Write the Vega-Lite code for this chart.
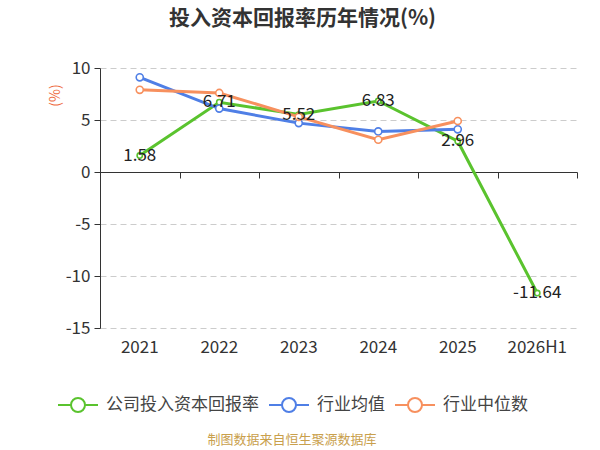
{
  "$schema": "https://vega.github.io/schema/vega-lite/v6.json",
  "autosize": "none",
  "width": 477,
  "height": 260,
  "padding": {"left": 100, "top": 68, "right": 23, "bottom": 122},
  "background": "white",
  "title": {
    "text": "投入资本回报率历年情况(%)",
    "fontSize": 21,
    "fontWeight": "bold",
    "color": "#333333",
    "font": "Noto Sans CJK SC",
    "anchor": "middle",
    "dx": -36,
    "offset": 30
  },
  "config": {
    "font": "Noto Sans CJK SC",
    "locale": {
      "number": {"decimal": ".", "thousands": ",", "grouping": [3], "currency": ["", ""], "minus": "-"}
    },
    "view": {"stroke": null},
    "legend": {
      "orient": "none",
      "legendX": -43,
      "legendY": 316,
      "direction": "horizontal",
      "symbolType": "M-1,0L-0.35,0M0.35,0L1,0M0.35,0A0.35,0.35,0,1,1,-0.35,0A0.35,0.35,0,1,1,0.35,0",
      "symbolSize": 1600,
      "symbolStrokeWidth": 2,
      "symbolFillColor": "white",
      "labelFontSize": 17,
      "labelColor": "#444444",
      "labelOffset": 7,
      "columnPadding": 6,
      "titleOrient": "bottom",
      "titleAnchor": "middle",
      "titleFontSize": 13,
      "titleFontWeight": "normal",
      "titleColor": "#c9a04c",
      "titlePadding": 18
    }
  },
  "data": {
    "values": [
      {"year": "2021", "series": "公司投入资本回报率", "value": 1.58},
      {"year": "2022", "series": "公司投入资本回报率", "value": 6.71},
      {"year": "2023", "series": "公司投入资本回报率", "value": 5.52},
      {"year": "2024", "series": "公司投入资本回报率", "value": 6.83},
      {"year": "2025", "series": "公司投入资本回报率", "value": 2.96},
      {"year": "2026H1", "series": "公司投入资本回报率", "value": -11.64},
      {"year": "2021", "series": "行业均值", "value": 9.1},
      {"year": "2022", "series": "行业均值", "value": 6.1},
      {"year": "2023", "series": "行业均值", "value": 4.7},
      {"year": "2024", "series": "行业均值", "value": 3.9},
      {"year": "2025", "series": "行业均值", "value": 4.1},
      {"year": "2021", "series": "行业中位数", "value": 7.9},
      {"year": "2022", "series": "行业中位数", "value": 7.6},
      {"year": "2023", "series": "行业中位数", "value": 5.3},
      {"year": "2024", "series": "行业中位数", "value": 3.1},
      {"year": "2025", "series": "行业中位数", "value": 4.9}
    ]
  },
  "resolve": {"axis": {"x": "independent"}},
  "encoding": {
    "y": {
      "field": "value",
      "type": "quantitative",
      "scale": {"domain": [-15, 10], "nice": false, "zero": false},
      "axis": {
        "values": [-15, -10, -5, 0, 5, 10],
        "title": "(%)",
        "titleColor": "#ee6a3e",
        "titleFontSize": 14,
        "titleFontWeight": "normal",
        "titleAngle": -90,
        "titleX": -45,
        "titleY": 27,
        "titleAlign": "center",
        "titleBaseline": "middle",
        "labelFontSize": 17,
        "labelColor": "#333333",
        "labelPadding": 4,
        "domainColor": "#333333",
        "tickColor": "#333333",
        "tickSize": 6,
        "gridColor": "#cccccc",
        "gridDash": [6, 4],
        "gridWidth": 1
      }
    }
  },
  "layer": [
    {
      "mark": {"type": "line", "strokeWidth": 3},
      "encoding": {
        "x": {
          "field": "year",
          "type": "ordinal",
          "scale": {"paddingInner": 0, "paddingOuter": 0},
          "axis": {
            "orient": "bottom",
            "title": null,
            "domain": false,
            "ticks": false,
            "grid": false,
            "labelAngle": 0,
            "labelFontSize": 17,
            "labelColor": "#333333",
            "labelPadding": 11
          }
        },
        "color": {
          "field": "series",
          "type": "nominal",
          "sort": ["公司投入资本回报率", "行业均值", "行业中位数"],
          "scale": {
            "domain": ["公司投入资本回报率", "行业均值", "行业中位数"],
            "range": ["#5ac32e", "#4f7fe6", "#f7905e"]
          },
          "legend": {"title": "制图数据来自恒生聚源数据库"}
        }
      }
    },
    {
      "mark": {"type": "point", "filled": false, "fill": "white", "fillOpacity": 1, "strokeWidth": 1.6, "opacity": 1},
      "encoding": {
        "x": {"field": "year", "type": "ordinal", "axis": null},
        "color": {"field": "series", "type": "nominal"},
        "size": {
          "condition": {"test": "datum.series === '公司投入资本回报率'", "value": 28},
          "value": 50
        }
      }
    },
    {
      "transform": [{"filter": "datum.series === '公司投入资本回报率'"}],
      "mark": {"type": "text", "fontSize": 17, "color": "#222222", "align": "center", "baseline": "middle"},
      "encoding": {
        "x": {
          "field": "year",
          "type": "ordinal",
          "axis": {
            "orient": "bottom",
            "offset": -156,
            "title": null,
            "labels": false,
            "grid": false,
            "domain": true,
            "domainColor": "#333333",
            "ticks": true,
            "tickBand": "extent",
            "tickColor": "#333333",
            "tickSize": 6
          }
        },
        "text": {"field": "value", "type": "quantitative", "format": ".2f"}
      }
    }
  ]
}
